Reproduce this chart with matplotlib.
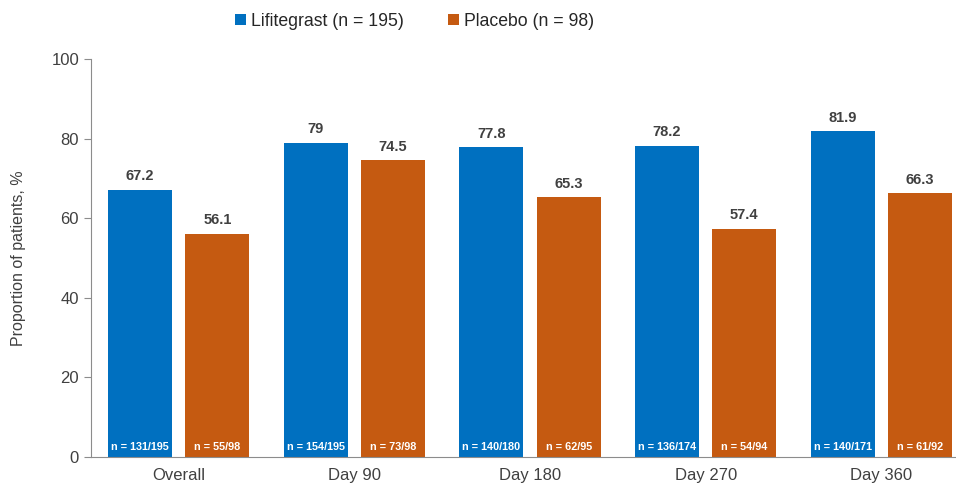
import numpy as np
import matplotlib
matplotlib.use("Agg")
import matplotlib.pyplot as plt

plt.rcParams['font.family'] = ['Liberation Sans', 'DejaVu Sans']

# data
categories = ["Overall", "Day 90", "Day 180", "Day 270", "Day 360"]
lifitegrast = [67.2, 79, 77.8, 78.2, 81.9]
placebo = [56.1, 74.5, 65.3, 57.4, 66.3]
lif_n = ["n = 131/195", "n = 154/195", "n = 140/180", "n = 136/174", "n = 140/171"]
pla_n = ["n = 55/98", "n = 73/98", "n = 62/95", "n = 54/94", "n = 61/92"]

blue = "#0070C0"
orange = "#C55A11"
textgrey = "#404040"

fig = plt.figure(figsize=(9.56, 4.91), dpi=100)
ax = fig.add_axes([0.095, 0.069, 0.904, 0.811])

x = np.arange(len(categories))
w = 0.365
off = 0.22
b1 = ax.bar(x - off, lifitegrast, w, color=blue, label="Lifitegrast (n = 195)")
b2 = ax.bar(x + off, placebo, w, color=orange, label="Placebo (n = 98)")

for bars, vals, ns in [(b1, lifitegrast, lif_n), (b2, placebo, pla_n)]:
    for b, v, n in zip(bars, vals, ns):
        cx = b.get_x() + b.get_width() / 2
        ax.text(cx, v + 1.6, f"{v:g}", ha="center", va="bottom",
                fontsize=10.5, fontweight="bold", color=textgrey)
        ax.text(cx, 1.3, n, ha="center", va="bottom",
                fontsize=7.8, fontweight="bold", color="white")

ax.set_xlim(-0.501, 4.42)
ax.set_ylim(0, 100)
ax.set_yticks([0, 20, 40, 60, 80, 100])
ax.set_xticks(x)
ax.set_xticklabels(categories)
ax.tick_params(axis="y", labelsize=12, colors=textgrey, length=5, color="#8c8c8c")
ax.tick_params(axis="x", labelsize=12, colors=textgrey, length=0, pad=8)
ax.set_ylabel("Proportion of patients, %", fontsize=11.5, color=textgrey, labelpad=18)

for s in ["top", "right"]:
    ax.spines[s].set_visible(False)
ax.spines["left"].set_color("#8c8c8c")
ax.spines["bottom"].set_color("#8c8c8c")

leg = ax.legend(loc="upper center", bbox_to_anchor=(0.375, 1.155), ncol=2,
                frameon=False, fontsize=12.7, handlelength=0.6, handleheight=0.6,
                handletextpad=0.3, columnspacing=2.5)
for t in leg.get_texts():
    t.set_color("#262626")

fig.savefig("out.png", dpi=100)
